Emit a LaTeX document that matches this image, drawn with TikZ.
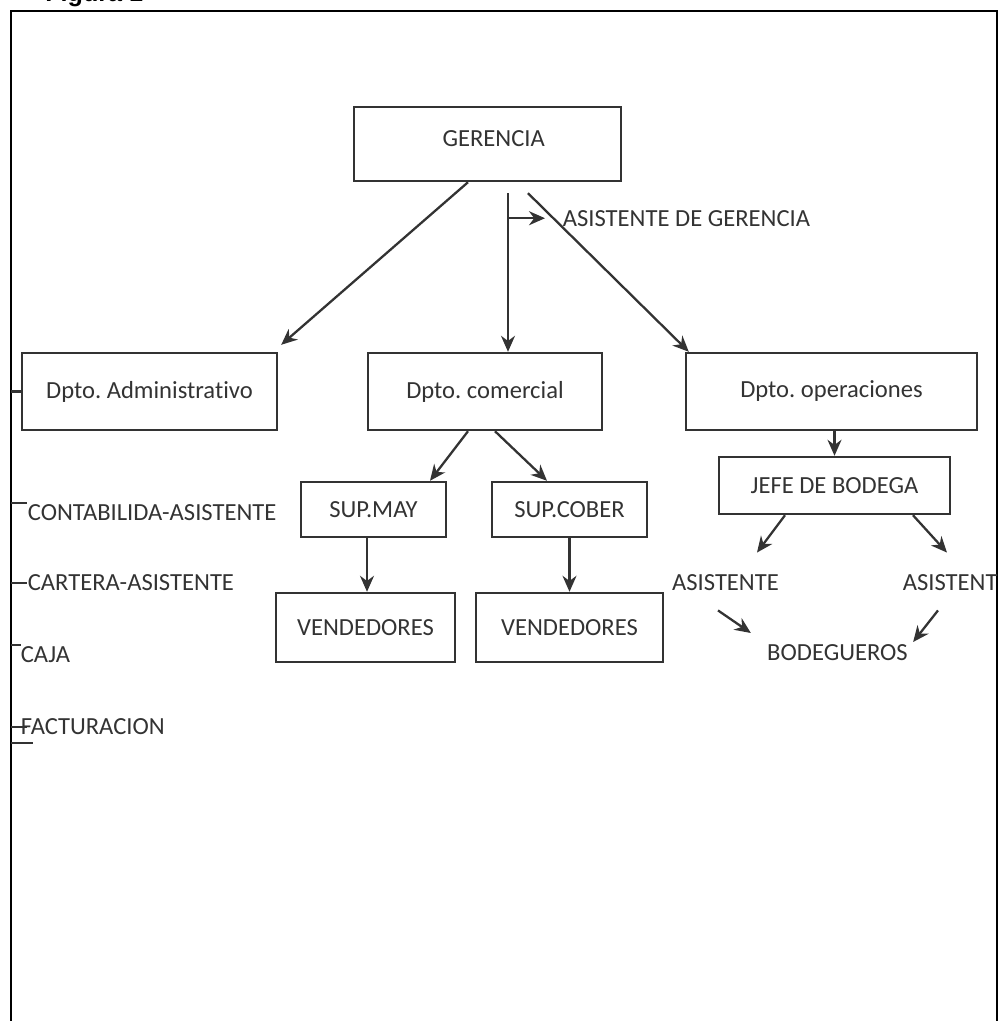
\documentclass[tikz,border=0pt]{standalone}
\usepackage{fontspec}
\setmainfont{Carlito}[Ligatures=NoCommon]
\newfontfamily\headfont{Liberation Sans}
\usepackage{xcolor}
\usetikzlibrary{shapes,arrows.meta,positioning,calc}

\definecolor{inkgray}{HTML}{333333}

\begin{document}
\frenchspacing
\begin{tikzpicture}[x=0.02cm, y=-0.02cm,
    box/.style={rectangle, draw=inkgray, line width=1.4pt, align=center, text=inkgray, font=\fontsize{14}{16}\selectfont},
    lbl/.style={inner sep=2pt, text=inkgray, font=\fontsize{14}{16}\selectfont},
    arrow/.style={draw=inkgray, line width=1.3pt, -{Stealth[length=3.2mm,width=2.8mm]}},
    tick/.style={draw=inkgray, line width=1.2pt}]

    \useasboundingbox (0,0) rectangle (998,1021);
    % frame and heading
    \node[anchor=base west, inner sep=0pt, font=\headfont\bfseries\fontsize{14.3}{16}\selectfont] (fig) at (45,2) {Figura 1};
    \draw[black, line width=1.3pt] (11,1040) -- (11,11) -- (997,11) -- (997,1040);
    \coordinate (fl) at (11,0);

    % boxes
    \node[box, minimum width=5.34cm, minimum height=1.48cm, text depth=0.2cm] (ger) at (487.5,144) {\hspace*{0.25cm}GERENCIA};
    \node[box, minimum width=5.10cm, minimum height=1.54cm] (adm) at (149.5,391.5) {Dpto. Administrativo};
    \node[box, minimum width=4.68cm, minimum height=1.54cm] (com) at (485,391.5) {Dpto. comercial};
    \node[box, minimum width=5.82cm, minimum height=1.54cm] (ope) at (831.5,391.5) {Dpto. operaciones};
    \node[box, minimum width=2.90cm, minimum height=1.10cm] (supmay) at (373.5,509.5) {SUP.MAY};
    \node[box, minimum width=3.10cm, minimum height=1.10cm] (supcob) at (569.5,509.5) {SUP.COBER};
    \node[box, minimum width=3.58cm, minimum height=1.38cm] (ven1) at (365.5,627.5) {VENDEDORES};
    \node[box, minimum width=3.74cm, minimum height=1.38cm] (ven2) at (569.5,627.5) {VENDEDORES};
    \node[box, minimum width=4.62cm, minimum height=1.14cm] (jefe) at (834.5,485.5) {JEFE DE BODEGA};

    % plain labels
    \node[lbl, anchor=west] (asis) at (559,219) {ASISTENTE DE GERENCIA};
    \node[lbl] (asl) at (725.5,583) {ASISTENTE};
    \node[lbl, anchor=west] (asr) at (899,583) {ASISTENT};
    \node[lbl] (bod) at (837.5,653) {BODEGUEROS};
    \node[lbl, anchor=west] (cont) at (24,513) {CONTABILIDA-ASISTENTE};
    \node[lbl, anchor=west] (cart) at (24,583) {CARTERA-ASISTENTE};
    \node[lbl, anchor=west] (caja) at (17,655) {CAJA};
    \node[lbl, anchor=west] (fact) at (17,727) {FACTURACION};

    % gerencia
    \coordinate (gmid) at ([xshift=0.41cm,yshift=-0.22cm]ger.south);
    \draw[arrow] ([xshift=-0.39cm]ger.south) -- ([xshift=0.06cm,yshift=0.14cm]adm.north east);
    \draw[arrow] (gmid) -- (gmid |- com.north);
    \draw[arrow, shorten >=0.28cm] ([yshift=-0.5cm]gmid) -- ([yshift=-0.5cm]gmid -| asis.west);
    \draw[arrow] ([xshift=0.81cm,yshift=-0.22cm]ger.south) -- ([xshift=0.08cm]ope.north west);

    % comercial
    \draw[arrow] ([xshift=-0.34cm]com.south) -- ([xshift=1.13cm]supmay.north);
    \draw[arrow] ([xshift=0.2cm]com.south) -- ([xshift=-0.45cm]supcob.north);
    \draw[arrow] ([xshift=-0.13cm]supmay.south) -- ([xshift=-0.13cm]supmay.south |- ven1.north);
    \draw[arrow] (supcob.south) -- (supcob.south |- ven2.north);

    % operaciones
    \draw[arrow] (jefe.north |- ope.south) -- (jefe.north);
    \draw[arrow] ([xshift=-0.99cm]jefe.south) -- ([xshift=0.63cm,yshift=0.37cm]asl.north);
    \draw[arrow] ([xshift=1.57cm]jefe.south) -- ([xshift=0.96cm,yshift=0.37cm]asr.north west);
    \draw[arrow] ([xshift=-0.15cm,yshift=-0.31cm]asl.south) -- ([xshift=-0.25cm,yshift=0.4cm]bod.west);
    \draw[arrow] ([xshift=0.78cm,yshift=-0.31cm]asr.south west) -- ([xshift=0.03cm,yshift=0.22cm]bod.east);

    % administrativo
    \draw[tick] (adm.west) -- (adm.west -| fl);
    \draw[tick] ([xshift=0.06cm,yshift=0.2cm]cont.west) -- ([yshift=0.2cm]cont.west -| fl);
    \draw[tick] ([xshift=0.06cm]cart.west) -- (cart.west -| fl);
    \draw[tick] ([xshift=0.08cm,yshift=0.2cm]caja.west) -- ([yshift=0.2cm]caja.west -| fl);
    \draw[tick] ([xshift=0.2cm]fact.west) -- (fact.west -| fl);
    \draw[tick] ([xshift=0.32cm,yshift=-0.32cm]fact.west) -- ([yshift=-0.32cm]fact.west -| fl);

\end{tikzpicture}
\end{document}
